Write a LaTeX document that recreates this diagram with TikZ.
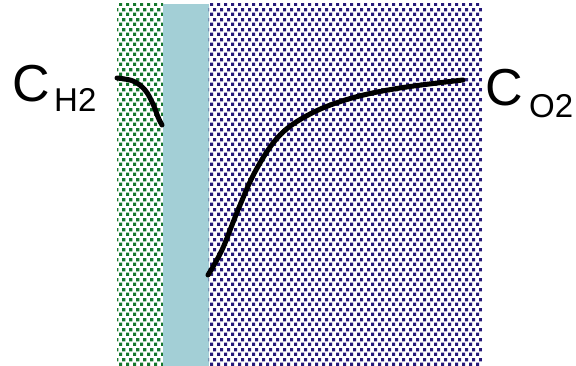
\documentclass[tikz,border=0pt]{standalone}
\usepackage{fontspec}
\setmainfont{Liberation Sans}
\usetikzlibrary{patterns}
\pgfdeclarepatternformonly{dotsq}{\pgfpointorigin}{\pgfpoint{7pt}{10pt}}{\pgfpoint{7pt}{10pt}}{%
  \pgfpathrectangle{\pgfpoint{0pt}{0pt}}{\pgfpoint{3.6pt}{3.6pt}}%
  \pgfpathrectangle{\pgfpoint{3.5pt}{5pt}}{\pgfpoint{3.6pt}{3.6pt}}%
  \pgfusepath{fill}}
\definecolor{dgreen}{RGB}{22,120,45}
\definecolor{dnavy}{RGB}{38,26,122}
\definecolor{strip}{RGB}{163,207,214}
\tikzset{
  conc/.style={line width=5pt, line cap=round, black},
  big/.style={font=\fontsize{52}{52}\selectfont, inner sep=0pt, anchor=base west},
  small/.style={font=\fontsize{33}{33}\selectfont, inner sep=0pt, anchor=base west}
}
\begin{document}
\begin{tikzpicture}[x=1pt,y=-1pt]
\useasboundingbox (0,0) rectangle (576,366);
\fill[white] (0,0) rectangle (576,366);
% regions
\fill[pattern=dotsq, pattern color=dgreen] (117,4) rectangle (163,366);
\fill[strip] (163,4) rectangle (208.5,366);
\fill[pattern=dotsq, pattern color=dnavy] (208.5,4) rectangle (482,366);
% concentration profiles
\draw[conc] plot[smooth, tension=0.6] coordinates {(117,78) (133,81) (145,90) (153,104) (158,117) (162,125)};
\draw[conc] plot[smooth, tension=0.6] coordinates {(208,275) (222,250) (238,210) (256,170) (280,135) (312,113) (352,98) (400,88) (463,80)};
% labels
\node[big] (ch) at (12,102) {C};
\node[small] (chs) at (54,112) {H2};
\node[big] (co) at (485,106) {C};
\node[small] (cos) at (529,118) {O2};
\end{tikzpicture}
\end{document}
